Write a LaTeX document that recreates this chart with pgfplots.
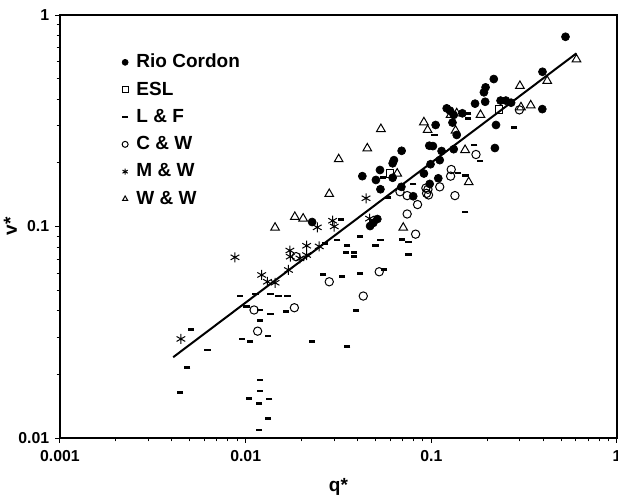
\documentclass[border=0pt]{standalone}
\usepackage{fontspec}
\setmainfont{Liberation Sans}
\usepackage{pgfplots}
\pgfplotsset{compat=1.18}
\begin{document}
\begin{tikzpicture}
\begin{axis}[
  scale only axis,
  width=334.2pt, height=253.8pt,
  xmode=log, ymode=log,
  xmin=0.001, xmax=1, ymin=0.01, ymax=1,
  xtick={0.001,0.01,0.1,1}, xticklabels={0.001,0.01,0.1,1},
  ytick={0.01,0.1,1}, yticklabels={0.01,0.1,1},
  tick pos=left, tick align=outside,
  major tick length=3pt, minor tick length=2pt,
  axis line style={line width=0.8pt},
  every tick/.style={black, line width=0.6pt},
  /pgf/number format/assume math mode=true,
  ticklabel style={font=\bfseries\fontsize{9.5}{10}\selectfont},
  xticklabel style={yshift=-1pt},
  label style={font=\bfseries\fontsize{11.4}{12}\selectfont},
  xlabel={q*}, ylabel={v*},
  xlabel style={yshift=-3.4pt},
  ylabel style={yshift=-6pt},
  legend cell align=left,
  legend style={draw=none, fill=none, at={(0.102,0.922)}, anchor=north west,
    font=\bfseries\fontsize{11.4}{12}\selectfont,
    nodes={inner sep=1pt, text height=8.6pt, text depth=2.2pt},
    row sep=3.6pt,
    /tikz/every odd column/.append style={column sep=4pt}},
  legend image code/.code={\draw[#1] plot coordinates {(0pt,0pt)};},
  legend image post style={mark size=1.8pt},
]
% Rio Cordon
\addplot[only marks, mark=*, mark size=2.4pt, black] coordinates {
(0.528,0.789) (0.397,0.539) (0.396,0.359) (0.217,0.498) (0.196,0.455)
(0.192,0.431) (0.195,0.389) (0.172,0.381) (0.236,0.394) (0.252,0.394)
(0.269,0.385) (0.121,0.362) (0.126,0.353) (0.147,0.343) (0.132,0.337)
(0.1055,0.302) (0.130,0.310) (0.137,0.271) (0.223,0.302) (0.220,0.235)
(0.0975,0.241) (0.102,0.240) (0.1136,0.2275) (0.132,0.232) (0.0692,0.228)
(0.111,0.206) (0.099,0.197) (0.0912,0.178) (0.109,0.169) (0.098,0.159)
(0.0799,0.139) (0.0690,0.154) (0.0629,0.206) (0.0619,0.199) (0.0529,0.185)
(0.0425,0.173) (0.0503,0.166) (0.0619,0.170) (0.0532,0.150) (0.0228,0.105)
(0.0512,0.1085) (0.0487,0.104) (0.0468,0.1005)
};
\addlegendentry{Rio Cordon}
% ESL
\addplot[only marks, mark=square, mark size=2.2pt, black, line width=0.6pt] coordinates {
(0.231,0.358) (0.0598,0.178)
};
\addlegendentry{ESL}
% L & F
\addplot[only marks, mark=-, mark size=1.9pt, black, mark options={line width=1.6pt}] coordinates {
(0.158,0.343) (0.158,0.325) (0.279,0.294) (0.104,0.271) (0.17,0.243)
(0.183,0.204) (0.1395,0.179) (0.153,0.174) (0.0799,0.159) (0.152,0.117)
(0.0697,0.087) (0.0753,0.0845) (0.0753,0.0735) (0.0586,0.1375) (0.0547,0.171)
(0.0325,0.108) (0.0311,0.0863) (0.0352,0.0811) (0.0413,0.0895) (0.0501,0.0811)
(0.0533,0.0863) (0.0267,0.0833) (0.0347,0.0752) (0.0383,0.0752) (0.0383,0.072)
(0.0262,0.0594) (0.033,0.0579) (0.0413,0.060) (0.0556,0.0627) (0.0136,0.048)
(0.015,0.0469) (0.0168,0.047) (0.0165,0.0397) (0.0136,0.0386) (0.0393,0.040)
(0.0119,0.0403) (0.0119,0.0359) (0.0132,0.0304) (0.0227,0.0287) (0.0352,0.0271)
(0.0119,0.0188) (0.0093,0.0469) (0.0113,0.048) (0.0101,0.0418) (0.00506,0.0327)
(0.00952,0.0294) (0.01055,0.0285) (0.00624,0.0261) (0.00485,0.0216) (0.00443,0.0164)
(0.0119,0.0167) (0.0104,0.0154) (0.0134,0.0153) (0.0118,0.0146) (0.0132,0.0124)
(0.0118,0.0109)
};
\addlegendentry{L \& F}
% C & W
\addplot[only marks, mark=o, mark size=2.5pt, black, line width=0.6pt] coordinates {
(0.298,0.356) (0.174,0.219) (0.128,0.186) (0.127,0.173) (0.111,0.154)
(0.0935,0.152) (0.0959,0.150) (0.0943,0.1435) (0.0966,0.141) (0.134,0.140)
(0.0741,0.140) (0.0843,0.127) (0.0741,0.1146) (0.0823,0.092) (0.0678,0.146)
(0.0187,0.072) (0.0282,0.0548) (0.0524,0.0611) (0.043,0.0469) (0.0183,0.0413)
(0.0111,0.0403) (0.0116,0.032)
};
\addlegendentry{C \& W}
% M & W
\addplot[only marks, mark=asterisk, mark size=3pt, black, line width=0.6pt] coordinates {
(0.0445,0.136) (0.0465,0.109) (0.0294,0.1065) (0.030,0.100) (0.0243,0.0991)
(0.0213,0.0811) (0.0249,0.0805) (0.0173,0.077) (0.0174,0.072) (0.0213,0.0733)
(0.0196,0.0707) (0.017,0.0623) (0.0122,0.059) (0.0131,0.0548) (0.0144,0.0542)
(0.00876,0.0715) (0.00448,0.0294)
};
\addlegendentry{M \& W}
% W & W
\addplot[only marks, mark=triangle, mark size=3pt, black, line width=0.6pt] coordinates {
(0.605,0.617) (0.421,0.488) (0.3,0.462) (0.343,0.374) (0.304,0.366)
(0.184,0.337) (0.137,0.343) (0.127,0.337) (0.0912,0.311) (0.0955,0.286)
(0.135,0.284) (0.152,0.230) (0.159,0.162) (0.0535,0.289) (0.0452,0.234)
(0.0317,0.208) (0.0282,0.1425) (0.0655,0.178) (0.0184,0.111) (0.0204,0.109)
(0.0144,0.0987) (0.0706,0.0987)
};
\addlegendentry{W \& W}
% fitted line
\addplot[black, line width=1.2pt, no marks, forget plot] coordinates {
(0.00407,0.0241) (0.605,0.659)
};
\end{axis}
\pgfresetboundingbox
\path[use as bounding box] ([shift={(-36pt,-34.8pt)}]current axis.south west) rectangle ([shift={(0.6pt,9pt)}]current axis.north east);
\end{tikzpicture}
\end{document}
